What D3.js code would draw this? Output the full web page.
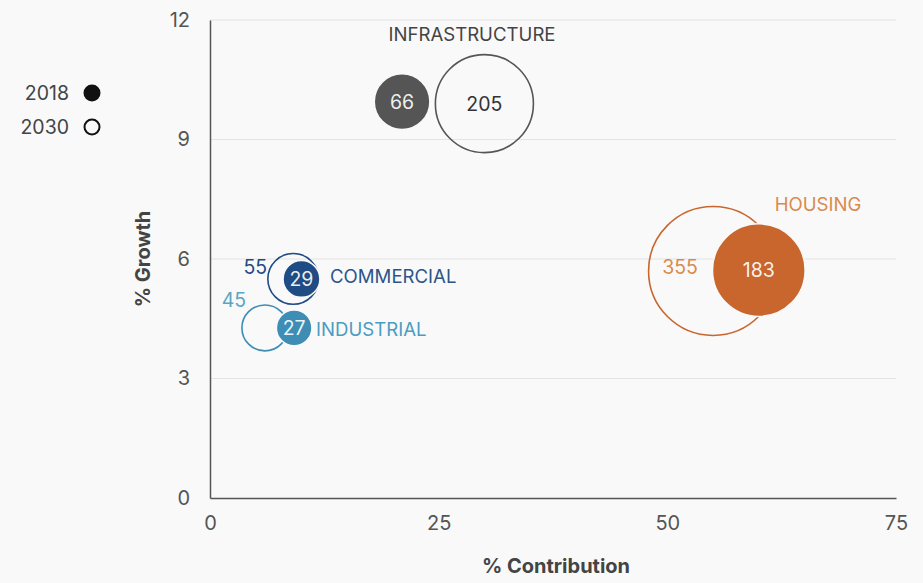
<!DOCTYPE html>
<html>
<head>
<meta charset="utf-8">
<script src="https://cdn.jsdelivr.net/npm/d3@7"></script>
<style>
  html, body { margin: 0; padding: 0; background: #f9f9f9; }
  svg { display: block; font-family: Inter, Roboto, "Noto Sans", sans-serif; }
</style>
</head>
<body>
<svg id="chart" width="923" height="583"></svg>
<script>
// Sectors and their bubble data (x = % contribution, y = % growth, value = size)
const sectors = ["INFRASTRUCTURE", "HOUSING", "COMMERCIAL", "INDUSTRIAL"];
const contrib2018 = [21, 60, 10, 9.2];
const growth2018 = [9.95, 5.72, 5.5, 4.27];
const value2018 = [66, 183, 29, 27];
const contrib2030 = [30, 55, 9.1, 6];
const growth2030 = [9.9, 5.7, 5.5, 4.27];
const value2030 = [205, 355, 55, 45];
const sectorColors = ["#555555", "#c8662d", "#1f4c84", "#3d8db5"];
const labelColors = ["#444444", "#d98a50", "#2c5589", "#4a9dc2"];

const xTicks = [0, 25, 50, 75];
const yTicks = [0, 3, 6, 9, 12];
const legendYears = ["2018", "2030"];

const svg = d3.select("#chart");

const x = d3.scaleLinear().domain([0, 75]).range([210, 896]);
const y = d3.scaleLinear().domain([0, 12]).range([498, 20]);
const r = d3.scaleSqrt().domain([0, 355]).range([0, 64.5]);

// Horizontal gridlines
svg.append("g").selectAll("line")
  .data(yTicks.filter(d => d > 0))
  .join("line")
  .attr("x1", x(0)).attr("x2", x(75))
  .attr("y1", d => y(d)).attr("y2", d => y(d))
  .attr("stroke", "#e4e4e4").attr("stroke-width", 1.2);

// Axes
const xAxis = svg.append("g").attr("transform", `translate(0,${y(0)})`)
  .call(d3.axisBottom(x).tickValues(xTicks).tickSize(0).tickPadding(18));
const yAxis = svg.append("g").attr("transform", `translate(${x(0)},0)`)
  .call(d3.axisLeft(y).tickValues(yTicks).tickSize(0).tickPadding(20));
[xAxis, yAxis].forEach(a => {
  a.select(".domain").attr("stroke", "#555").attr("stroke-width", 1.5);
  a.selectAll("text").attr("fill", "#555").attr("font-size", 20)
    .attr("font-family", "Inter, Roboto, sans-serif");
});
xAxis.selectAll("text").attr("dy", "0.71em");

// Axis titles
svg.append("text").attr("x", 556).attr("y", 573)
  .attr("text-anchor", "middle").attr("font-size", 20).attr("font-weight", 700)
  .attr("fill", "#444").text("% Contribution");
svg.append("text").attr("transform", "translate(150,259) rotate(-90)")
  .attr("text-anchor", "middle").attr("font-size", 20).attr("font-weight", 700)
  .attr("fill", "#444").text("% Growth");

// Bubble data rows
const rows = sectors.map((s, i) => ({
  sector: s, color: sectorColors[i], label: labelColors[i],
  x18: contrib2018[i], y18: growth2018[i], v18: value2018[i],
  x30: contrib2030[i], y30: growth2030[i], v30: value2030[i]
}));

// 2030 outline bubbles
svg.append("g").selectAll("circle").data(rows).join("circle")
  .attr("cx", d => x(d.x30)).attr("cy", d => y(d.y30)).attr("r", d => r(d.v30))
  .attr("fill", "none").attr("stroke", d => d.color).attr("stroke-width", 1.6);

// 2018 filled bubbles
svg.append("g").selectAll("circle").data(rows).join("circle")
  .attr("cx", d => x(d.x18)).attr("cy", d => y(d.y18)).attr("r", d => r(d.v18))
  .attr("fill", d => d.color).attr("stroke", "#f9f9f9").attr("stroke-width", 1.5);

// 2018 value labels inside the filled bubbles
svg.append("g").selectAll("text").data(rows).join("text")
  .attr("x", d => x(d.x18)).attr("y", d => y(d.y18)).attr("dy", "0.36em")
  .attr("text-anchor", "middle").attr("font-size", 19.5)
  .attr("fill", "#ffffff").attr("fill-opacity", 0.92).text(d => d.v18);

// 2030 value labels: inside for large, outside upper-left for small bubbles
const lab30 = {
  "INFRASTRUCTURE": d => [x(d.x30), y(d.y30), "middle", "#333"],
  "HOUSING": d => [x(d.x30) - 33, y(d.y30) - 4, "middle", d.label],
  "COMMERCIAL": d => [x(d.x30) - 38, y(d.y30) - 12, "middle", d.color],
  "INDUSTRIAL": d => [x(d.x30) - 31, y(d.y30) - 28, "middle", "#5aa6c2"]
};
svg.append("g").selectAll("text").data(rows).join("text")
  .each(function(d) {
    const [tx, ty, anchor, fill] = lab30[d.sector](d);
    d3.select(this).attr("x", tx).attr("y", ty).attr("text-anchor", anchor).attr("fill", fill);
  })
  .attr("dy", "0.36em").attr("font-size", 19.5).text(d => d.v30);

// Sector names
const names = {
  "INFRASTRUCTURE": [472, 34, "middle"],
  "HOUSING": [818, 204, "middle"],
  "COMMERCIAL": [330, 276, "start"],
  "INDUSTRIAL": [316, 329, "start"]
};
svg.append("g").selectAll("text").data(rows).join("text")
  .attr("x", d => names[d.sector][0]).attr("y", d => names[d.sector][1])
  .attr("text-anchor", d => names[d.sector][2]).attr("dy", "0.36em")
  .attr("font-size", 18.6).attr("fill", d => d.label).text(d => d.sector);

// Legend
const legend = svg.append("g");
legendYears.forEach((yr, i) => {
  const ly = 93 + i * 34;
  legend.append("text").attr("x", 69).attr("y", ly).attr("dy", "0.36em")
    .attr("text-anchor", "end").attr("font-size", 19.5).attr("fill", "#444").text(yr);
  legend.append("circle").attr("cx", 92).attr("cy", ly)
    .attr("r", i === 0 ? 8.5 : 7.5)
    .attr("fill", i === 0 ? "#111" : "none")
    .attr("stroke", "#111").attr("stroke-width", i === 0 ? 0 : 2);
});
</script>
</body>
</html>
